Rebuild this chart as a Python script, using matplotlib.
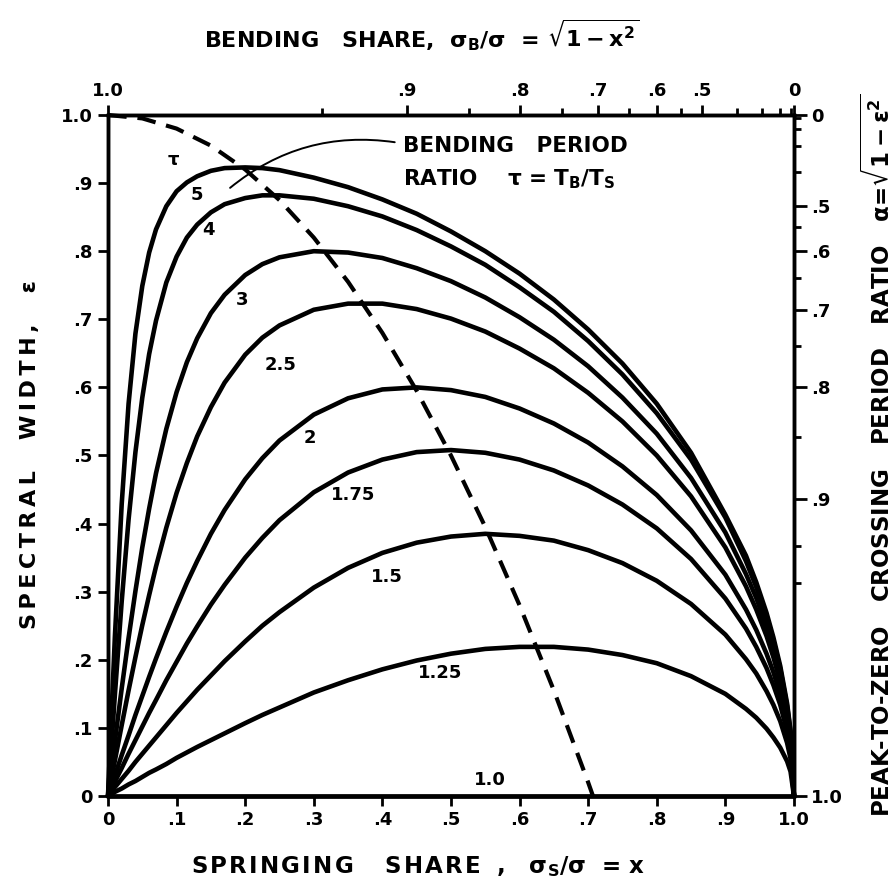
import numpy as np
import matplotlib.pyplot as plt

plt.rcParams['font.family'] = 'DejaVu Sans'
plt.rcParams['font.weight'] = 'bold'
plt.rcParams['mathtext.default'] = 'bf'

# springing share x, spectral width eps
x = [0, 0.01, 0.02, 0.03, 0.04, 0.05, 0.06, 0.07, 0.085, 0.1,
     0.115, 0.13, 0.15, 0.17, 0.2, 0.225, 0.25, 0.3, 0.35, 0.4,
     0.45, 0.5, 0.55, 0.6, 0.65, 0.7, 0.75, 0.8, 0.85, 0.9,
     0.93, 0.945, 0.96, 0.97, 0.98, 0.99, 0.995, 1.0]

eps_5 = [0, .233, .429, .576, .679, .749, .798, .832, .866, .888,
         .901, .910, .918, .922, .923, .922, .919, .908, .894, .876,
         .855, .829, .800, .767, .729, .685, .635, .576, .504, .413,
         .353, .314, .269, .233, .191, .136, .096, 0]
eps_4 = [0, .148, .286, .406, .505, .585, .649, .698, .754, .792,
         .820, .839, .857, .869, .878, .882, .882, .877, .866, .851,
         .831, .807, .780, .747, .711, .668, .619, .562, .494, .409,
         .345, .307, .263, .228, .187, .132, .094, 0]
eps_3 = [0, .080, .158, .232, .301, .365, .422, .474, .539, .593,
         .637, .672, .709, .736, .765, .781, .791, .800, .798, .790,
         .775, .756, .732, .703, .670, .631, .585, .532, .467, .387,
         .326, .291, .249, .216, .177, .125, .089, 0]
eps_25 = [0, .052, .104, .155, .204, .251, .295, .337, .394, .445,
          .489, .528, .571, .607, .648, .673, .691, .714, .723, .723,
          .715, .701, .682, .657, .628, .592, .550, .500, .440, .365,
          .308, .274, .235, .204, .167, .119, .084, 0]
eps_2 = [0, .030, .060, .089, .119, .147, .175, .202, .241, .278,
         .313, .345, .385, .420, .465, .496, .522, .560, .584, .597,
         .600, .596, .586, .569, .547, .519, .484, .442, .390, .325,
         .274, .244, .209, .182, .149, .106, .075, 0]
eps_175 = [0, .021, .041, .062, .082, .102, .122, .141, .170, .197,
           .224, .249, .281, .310, .350, .379, .405, .446, .475, .494,
           .505, .508, .504, .494, .478, .456, .428, .393, .348, .290,
           .246, .219, .188, .163, .134, .095, .067, 0]
eps_15 = [0, .013, .025, .037, .050, .062, .074, .086, .104, .122,
          .139, .156, .177, .198, .227, .250, .270, .306, .335, .357,
          .372, .381, .385, .382, .375, .361, .342, .316, .282, .237,
          .201, .180, .154, .134, .110, .078, .055, 0]
eps_125 = [0, .006, .011, .017, .022, .028, .034, .039, .047, .056,
           .064, .072, .082, .092, .107, .119, .130, .152, .170, .186,
           .199, .209, .216, .219, .219, .215, .207, .195, .176, .150,
           .128, .115, .099, .086, .071, .051, .036, 0]
eps_10 = [0] * len(x)

curves = [eps_5, eps_4, eps_3, eps_25, eps_2, eps_175, eps_15, eps_125, eps_10]

# curve labels (tau) and where they sit
tau_labels = ['τ', '5', '4', '3', '2.5', '2', '1.75', '1.5', '1.25', '1.0']
label_x = [0.095, 0.130, 0.146, 0.195, 0.251, 0.294, 0.357, 0.407, 0.484, 0.557]
label_y = [0.934, 0.883, 0.831, 0.728, 0.633, 0.526, 0.442, 0.322, 0.181, 0.024]

# dashed line through the maxima
peak_x = [0, 0.05, 0.1, 0.15, 0.2, 0.25, 0.3, 0.35, 0.4, 0.45, 0.5, 0.55, 0.6, 0.65, 0.7, 0.707]
peak_eps = [1, 0.995, 0.98, 0.955, 0.92, 0.875, 0.82, 0.755, 0.68, 0.595, 0.5, 0.395, 0.28, 0.155, 0.02, 0]

# secondary scales
top_major = [1.0, 0.9, 0.8, 0.7, 0.6, 0.5, 0.0]
top_major_lbl = ['1.0', '.9', '.8', '.7', '.6', '.5', '0']
top_minor = [0.95, 0.85, 0.75, 0.65, 0.55, 0.4, 0.3, 0.2, 0.1]
right_major = [0.0, 0.5, 0.6, 0.7, 0.8, 0.9, 1.0]
right_major_lbl = ['0', '.5', '.6', '.7', '.8', '.9', '1.0']
right_minor = [0.1, 0.2, 0.3, 0.4, 0.55, 0.65, 0.75, 0.85, 0.93, 0.95]

main_ticks = [0, 0.1, 0.2, 0.3, 0.4, 0.5, 0.6, 0.7, 0.8, 0.9, 1.0]
main_lbl = ['0', '.1', '.2', '.3', '.4', '.5', '.6', '.7', '.8', '.9', '1.0']


def spaced(s, sep='\u2009'):
    # wide letter spacing like the stencil lettering
    return sep.join(s)


fig = plt.figure(figsize=(8.94, 8.92), dpi=100)
ax = fig.add_axes([0.1208, 0.1076, 0.7673, 0.7635])

for e in curves:
    ax.plot(x, e, color='black', lw=3.3, solid_capstyle='round', solid_joinstyle='round', clip_on=False)
ax.plot(peak_x, peak_eps, color='black', lw=3.0, dashes=(4.5, 2.6), clip_on=False)

for t, lx, ly in zip(tau_labels, label_x, label_y):
    ax.text(lx, ly, t, fontsize=13, fontweight='bold', ha='center', va='center')

ax.text(0.43, 0.954, 'BENDING   PERIOD', fontsize=15.5, fontweight='bold', va='center', ha='left')
ax.text(0.43, 0.905, 'RATIO    τ = T$_B$/T$_S$', fontsize=15.5, fontweight='bold', va='center', ha='left')
ax.annotate('', xy=(0.178, 0.893), xytext=(0.418, 0.960),
            arrowprops=dict(arrowstyle='-', lw=1.4, color='black', shrinkA=0, shrinkB=0,
                            connectionstyle='arc3,rad=0.22'))

ax.set_xlim(0, 1)
ax.set_ylim(0, 1)
ax.set_xticks(main_ticks)
ax.set_xticklabels(main_lbl)
ax.set_yticks(main_ticks)
ax.set_yticklabels(main_lbl)
ax.tick_params(direction='out', length=7, width=2, labelsize=13, pad=4)
for s in ax.spines.values():
    s.set_linewidth(2.4)

ax_top = ax.twiny()
ax_top.set_xlim(0, 1)
ax_top.set_xticks(np.sqrt(1 - np.array(top_major) ** 2))
ax_top.set_xticklabels(top_major_lbl)
ax_top.set_xticks(np.sqrt(1 - np.array(top_minor) ** 2), minor=True)
ax_top.tick_params(which='major', direction='out', length=7, width=2, labelsize=13, pad=4)
ax_top.tick_params(which='minor', direction='out', length=5, width=2)

ax_r = ax.twinx()
ax_r.set_ylim(0, 1)
ax_r.set_yticks(np.sqrt(1 - np.array(right_major) ** 2))
ax_r.set_yticklabels(right_major_lbl)
ax_r.set_yticks(np.sqrt(1 - np.array(right_minor) ** 2), minor=True)
ax_r.tick_params(which='major', direction='out', length=9, width=2, labelsize=13, pad=3)
ax_r.tick_params(which='minor', direction='out', length=5, width=2)

for a in (ax_top, ax_r):
    for s in a.spines.values():
        s.set_linewidth(2.4)

fig.text(0.472, 0.961, 'BENDING   SHARE,  σ$_B$/σ  = $\\sqrt{1-x^2}$', fontsize=16, fontweight='bold',
         ha='center', va='center')
fig.text(0.468, 0.029, spaced('SPRINGING', '\u200a') + '    ' + spaced('SHARE', '\u200a') + '  ,   σ$_S$/σ  = x',
         fontsize=16.5, fontweight='bold', ha='center', va='center')
fig.text(0.034, 0.49, spaced('SPECTRAL') + '    ' + spaced('WIDTH,') + '    ε', fontsize=16,
         fontweight='bold', ha='center', va='center', rotation=90)
fig.text(0.982, 0.49, 'PEAK-TO-ZERO   CROSSING   PERIOD   RATIO   α=$\\sqrt{1-ε^2}$', fontsize=16.5,
         fontweight='bold', ha='center', va='center', rotation=90)

fig.savefig('out.png', dpi=100)
